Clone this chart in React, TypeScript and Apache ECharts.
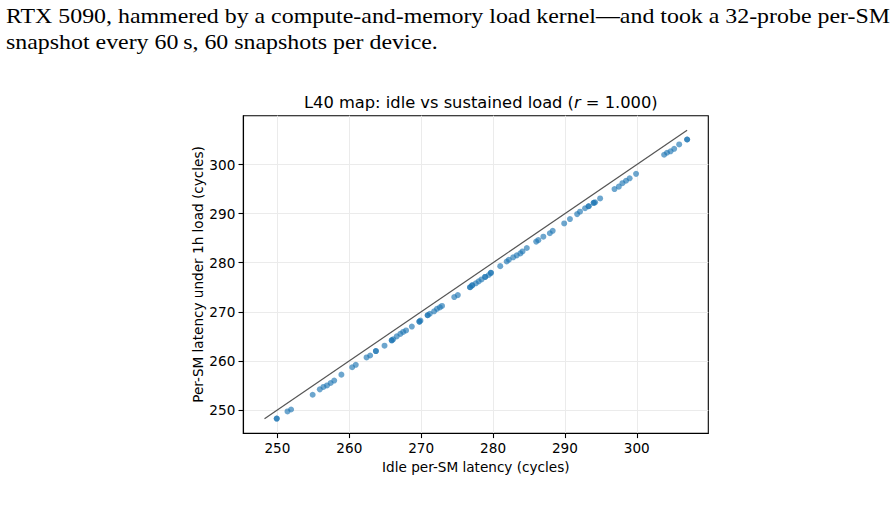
import React, { useEffect, useRef } from "react";
import * as echarts from "echarts";

const headerLines = [
  "RTX 5090, hammered by a compute-and-memory load kernel\u2014and took a 32-probe per-SM",
  "snapshot every 60\u2009s, 60 snapshots per device.",
];
const chartTitle = "L40 map: idle vs sustained load";
const xAxisName = "Idle per-SM latency (cycles)";
const yAxisName = "Per-SM latency under 1h load (cycles)";
const tickValues = [250, 260, 270, 280, 290, 300];
const diagonalEnds = [248.2, 307.0];

// per-SM idle latency (cycles)
const idleCycles = [
  249.9, 249.9, 251.4, 251.9, 254.9, 255.9, 256.4, 256.9, 257.4, 257.9,
  258.9, 260.4, 260.9, 262.4, 262.9, 263.7, 263.7, 264.9, 265.9, 265.9,
  266.1, 266.6, 267.1, 267.5, 267.9, 268.7, 269.75, 269.75, 269.9, 270.9,
  270.9, 271.2, 271.8, 272.2, 272.6, 272.9, 274.6, 275.1, 276.8, 276.8,
  277.1, 277.1, 277.6, 278.0, 278.4, 278.9, 278.9, 279.4, 279.7, 279.7,
  281.0, 281.9, 282.2, 282.8, 283.3, 283.8, 284.1, 284.7, 286.0, 286.3,
  287.0, 287.9, 288.3, 289.9, 290.7, 291.7, 292.1, 292.8, 293.3, 293.3,
  294.0, 294.0, 294.2, 294.9, 296.9, 297.5, 298.0, 298.5, 299.0, 299.9,
  303.8, 304.2, 304.7, 305.2, 305.9, 307.0, 307.0,
];
// per-SM latency under sustained load (cycles)
const loadCycles = [
  248.25, 248.25, 249.7, 250.1, 253.1, 254.2, 254.7, 255.0, 255.5, 256.0,
  257.2, 258.7, 259.2, 260.7, 261.1, 262.0, 262.0, 263.1, 264.2, 264.2,
  264.4, 265.0, 265.5, 265.9, 266.2, 267.0, 268.0, 268.0, 268.2, 269.3,
  269.3, 269.6, 270.1, 270.6, 270.9, 271.2, 273.0, 273.4, 275.0, 275.0,
  275.4, 275.4, 275.8, 276.2, 276.6, 277.1, 277.1, 277.5, 277.95, 277.95,
  279.3, 280.25, 280.6, 281.1, 281.5, 281.9, 282.3, 283.0, 284.3, 284.6,
  285.3, 286.0, 286.5, 288.0, 288.9, 289.9, 290.4, 291.1, 291.5, 291.5,
  292.2, 292.2, 292.3, 293.1, 295.0, 295.5, 296.2, 296.7, 297.2, 298.1,
  302.0, 302.4, 302.7, 303.2, 304.1, 305.1, 305.1,
];

const AX_MIN = 245.25;
const AX_MAX = 309.95;

export default function App() {
  const ref = useRef<HTMLDivElement>(null);
  useEffect(() => {
    if (!ref.current) return;
    const chart = echarts.init(ref.current, undefined, { renderer: "svg" });
    const font = "DejaVu Sans";
    const points = idleCycles.map((x, i) => [x, loadCycles[i]]);
    const axisCommon = {
      type: "value" as const,
      min: AX_MIN,
      max: AX_MAX,
      axisLine: { show: true, lineStyle: { color: "#000", width: 1.1 } },
      axisTick: {
        show: true,
        customValues: tickValues,
        length: 4.8,
        lineStyle: { color: "#000", width: 1.1 },
      },
      splitLine: { show: true, lineStyle: { color: "#ebebeb", width: 1 } },
      nameLocation: "middle" as const,
      nameMoveOverlap: false,
      nameTextStyle: { fontFamily: font, fontSize: 13.6, color: "#000" },
    };
    chart.setOption({
      animation: false,
      backgroundColor: "#fff",
      title: {
        text: chartTitle + " ({i|r}{n| = 1.000)}",
        left: 475.8,
        textAlign: "center",
        top: 89,
        textStyle: {
          fontFamily: font,
          fontSize: 16.3,
          fontWeight: "normal",
          color: "#000",
          rich: {
            i: { fontFamily: font, fontSize: 16.3, fontStyle: "italic", color: "#000" },
            n: { fontFamily: font, fontSize: 16.3, color: "#000" },
          },
        },
      },
      graphic: headerLines.map((t, i) => ({
        type: "text",
        x: 6,
        y: 6 + i * 25.5,
        scaleX: 1.165,
        style: {
          text: t,
          x: 0,
          y: 0,
          verticalAlign: "top",
          align: "left",
          font: "20.5px 'Liberation Serif'",
          fill: "#000",
        },
      })),
      grid: {
        left: 243.3,
        top: 115.7,
        width: 465,
        height: 317.6,
        show: true,
        borderColor: "#000",
        borderWidth: 1.1,
        backgroundColor: "transparent",
        containLabel: false,
      },
      xAxis: {
        ...axisCommon,
        name: xAxisName,
        nameGap: 27,
        axisLabel: {
          customValues: tickValues,
          fontFamily: font,
          fontSize: 13.6,
          color: "#000",
          margin: 8,
        },
      },
      yAxis: {
        ...axisCommon,
        name: yAxisName,
        nameGap: 38,
        axisLabel: {
          customValues: tickValues,
          fontFamily: font,
          fontSize: 13.6,
          color: "#000",
          margin: 8,
        },
      },
      series: [
        {
          type: "line",
          data: diagonalEnds.map((v) => [v, v]),
          symbol: "none",
          lineStyle: { color: "#555", width: 1.2 },
          z: 2,
        },
        {
          type: "scatter",
          data: points,
          symbolSize: 6,
          itemStyle: { color: "#1f77b4", opacity: 0.65 },
          z: 3,
        },
      ],
    });
    return () => chart.dispose();
  }, []);
  return (
    <div
      ref={ref}
      style={{ position: "absolute", left: 0, top: 0, width: 896, height: 513, background: "#fff" }}
    />
  );
}
